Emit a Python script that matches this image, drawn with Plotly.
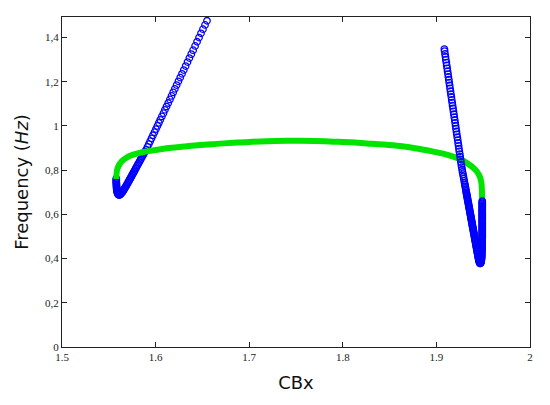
import plotly.graph_objects as go

# ---- data ----
green_x = [1.5580, 1.5582, 1.5588, 1.5605, 1.5638, 1.5690, 1.5760, 1.5869, 1.6000, 1.6118,
           1.6300, 1.6474, 1.6650, 1.6830, 1.7000, 1.7187, 1.7400, 1.7543, 1.7700, 1.7899,
           1.8080, 1.8255, 1.8430, 1.8611, 1.8790, 1.8967, 1.9080, 1.9181, 1.9260, 1.9323,
           1.9380, 1.9430, 1.9465, 1.9480, 1.9486, 1.9488]
green_y = [0.760, 0.780, 0.800, 0.820, 0.840, 0.857, 0.870, 0.882, 0.891, 0.899,
           0.907, 0.914, 0.919, 0.924, 0.928, 0.931, 0.933, 0.933, 0.932, 0.929,
           0.926, 0.921, 0.916, 0.909, 0.898, 0.884, 0.874, 0.861, 0.848, 0.833,
           0.816, 0.795, 0.770, 0.745, 0.710, 0.665]

blue_left_x = [
    1.5580, 1.5580, 1.5580, 1.5580, 1.5581, 1.5581, 1.5582, 1.5582, 1.5583, 1.5584,
    1.5585, 1.5587, 1.5589, 1.5592, 1.5595, 1.5599, 1.5603, 1.5608,
    1.5613, 1.5619, 1.5625, 1.5631, 1.5637, 1.5643, 1.5649, 1.5655, 1.5661, 1.5667,
    1.5673, 1.5680, 1.5687, 1.5694, 1.5700, 1.5707, 1.5713, 1.5720, 1.5726, 1.5733,
    1.5739, 1.5746, 1.5752, 1.5759, 1.5765, 1.5772, 1.5778, 1.5787, 1.5796, 1.5805,
    1.5814, 1.5823, 1.5832, 1.5841, 1.5850, 1.5859, 1.5868, 1.5877, 1.5886,
    1.5899, 1.5913, 1.5928, 1.5942, 1.5957, 1.5972, 1.5988, 1.6004, 1.6019, 1.6035,
    1.6050, 1.6067, 1.6084, 1.6100, 1.6117, 1.6135, 1.6153, 1.6170, 1.6188, 1.6206,
    1.6225, 1.6244, 1.6263, 1.6282, 1.6301, 1.6321, 1.6341, 1.6361, 1.6381, 1.6401,
    1.6422, 1.6443, 1.6464, 1.6485, 1.6506, 1.6528, 1.6549, 1.6570]
blue_left_y = [
    0.762, 0.757, 0.752, 0.747, 0.742, 0.737, 0.732, 0.727, 0.722, 0.717,
    0.712, 0.707, 0.702, 0.698, 0.694, 0.691, 0.689, 0.688,
    0.688, 0.689, 0.691, 0.694, 0.697, 0.700, 0.704, 0.708, 0.712, 0.716,
    0.720, 0.725, 0.730, 0.735, 0.740, 0.745, 0.750, 0.755, 0.760, 0.765,
    0.770, 0.775, 0.780, 0.785, 0.790, 0.795, 0.800, 0.807, 0.814, 0.821,
    0.828, 0.835, 0.842, 0.849, 0.856, 0.863, 0.870, 0.877, 0.884,
    0.892, 0.905, 0.918, 0.931, 0.944, 0.958, 0.972, 0.986, 1.000, 1.014,
    1.028, 1.043, 1.058, 1.073, 1.088, 1.104, 1.120, 1.136, 1.152, 1.168,
    1.185, 1.202, 1.219, 1.236, 1.253, 1.271, 1.289, 1.307, 1.325, 1.343,
    1.362, 1.381, 1.400, 1.419, 1.438, 1.457, 1.476, 1.495]

blue_right_x = [
    1.9490, 1.9490, 1.9490, 1.9490, 1.9490, 1.9490, 1.9490, 1.9490, 1.9490, 1.9490,
    1.9490, 1.9490, 1.9490, 1.9490, 1.9490, 1.9490, 1.9490, 1.9490, 1.9490, 1.9490,
    1.9490, 1.9490, 1.9490, 1.9490, 1.9490, 1.9490, 1.9490, 1.9490, 1.9490, 1.9490,
    1.9490, 1.9490, 1.9490,
    1.9490, 1.9489, 1.9489, 1.9489, 1.9489, 1.9489, 1.9488, 1.9488, 1.9488, 1.9488,
    1.9487, 1.9487, 1.9486, 1.9486, 1.9485, 1.9485, 1.9484, 1.9484, 1.9483, 1.9482,
    1.9481, 1.9480, 1.9478, 1.9477, 1.9475, 1.9473, 1.9470, 1.9468, 1.9465, 1.9463,
    1.9460, 1.9458, 1.9455, 1.9452, 1.9450, 1.9448, 1.9446,
    1.9444, 1.9442, 1.9439, 1.9437, 1.9435, 1.9433, 1.9431, 1.9429, 1.9426, 1.9424,
    1.9422, 1.9420, 1.9418, 1.9416, 1.9413, 1.9411, 1.9409, 1.9407, 1.9405, 1.9403,
    1.9400, 1.9398, 1.9396, 1.9394, 1.9392, 1.9390, 1.9387, 1.9385, 1.9383, 1.9381,
    1.9379, 1.9377, 1.9374, 1.9372, 1.9370, 1.9368, 1.9366, 1.9364, 1.9361, 1.9359,
    1.9357, 1.9355, 1.9353, 1.9350, 1.9348, 1.9346, 1.9344, 1.9342, 1.9340, 1.9337,
    1.9335, 1.9333, 1.9331, 1.9329, 1.9327, 1.9324, 1.9322, 1.9320,
    1.9317, 1.9314, 1.9311, 1.9308, 1.9305, 1.9301, 1.9297,
    1.9292, 1.9288, 1.9284, 1.9279, 1.9275, 1.9270, 1.9266,
    1.9262, 1.9258, 1.9254, 1.9250, 1.9245, 1.9241, 1.9237, 1.9232, 1.9228, 1.9223,
    1.9218, 1.9214, 1.9209, 1.9205, 1.9200, 1.9196, 1.9191, 1.9187, 1.9182, 1.9178,
    1.9173, 1.9169, 1.9164, 1.9160, 1.9155, 1.9151, 1.9146, 1.9142, 1.9137, 1.9133,
    1.9128, 1.9124, 1.9119, 1.9115, 1.9110, 1.9106, 1.9101, 1.9097, 1.9092, 1.9088,
    1.9085]
blue_right_y = [
    0.660, 0.655, 0.650, 0.645, 0.640, 0.635, 0.630, 0.625, 0.620, 0.615,
    0.610, 0.605, 0.600, 0.595, 0.590, 0.585, 0.580, 0.575, 0.570, 0.565,
    0.560, 0.555, 0.550, 0.545, 0.540, 0.535, 0.530, 0.525, 0.520, 0.515,
    0.510, 0.505, 0.500,
    0.495, 0.490, 0.485, 0.480, 0.475, 0.470, 0.465, 0.460, 0.455, 0.450,
    0.445, 0.440, 0.435, 0.430, 0.425, 0.420, 0.415, 0.410, 0.405, 0.400,
    0.396, 0.392, 0.388, 0.385, 0.382, 0.380, 0.379, 0.378, 0.379, 0.380,
    0.383, 0.386, 0.390, 0.395, 0.400, 0.405, 0.409,
    0.414, 0.419, 0.424, 0.429, 0.434, 0.439, 0.444, 0.449, 0.454, 0.459,
    0.464, 0.469, 0.474, 0.479, 0.484, 0.489, 0.494, 0.499, 0.504, 0.509,
    0.514, 0.519, 0.524, 0.529, 0.534, 0.539, 0.544, 0.549, 0.554, 0.559,
    0.564, 0.569, 0.574, 0.579, 0.584, 0.589, 0.594, 0.599, 0.604, 0.609,
    0.614, 0.619, 0.624, 0.629, 0.634, 0.639, 0.644, 0.649, 0.654, 0.659,
    0.664, 0.669, 0.674, 0.679, 0.684, 0.689, 0.694, 0.699,
    0.706, 0.713, 0.720, 0.727, 0.734, 0.742, 0.752,
    0.762, 0.772, 0.782, 0.792, 0.803, 0.814, 0.825,
    0.837, 0.849, 0.861, 0.873, 0.885, 0.897, 0.910, 0.923, 0.936, 0.949,
    0.962, 0.975, 0.988, 1.001, 1.014, 1.027, 1.040, 1.053, 1.066, 1.079,
    1.092, 1.105, 1.118, 1.131, 1.144, 1.157, 1.170, 1.183, 1.196, 1.209,
    1.222, 1.235, 1.248, 1.261, 1.274, 1.287, 1.300, 1.313, 1.326, 1.339,
    1.348]

x_ticks = [1.5, 1.6, 1.7, 1.8, 1.9, 2.0]
x_tick_labels = ["1.5", "1.6", "1.7", "1.8", "1.9", "2"]
y_ticks = [0, 0.2, 0.4, 0.6, 0.8, 1.0, 1.2, 1.4]
y_tick_labels = ["0", "0,2", "0,4", "0,6", "0,8", "1", "1,2", "1,4"]

BLUE = "#0000ff"
GREEN = "#00e400"

fig = go.Figure()
blue_marker = dict(symbol="circle-open", size=6.5, color=BLUE, line=dict(width=1.3, color=BLUE))

fig.add_trace(go.Scatter(x=blue_left_x, y=blue_left_y, mode="markers",
                         marker=blue_marker, cliponaxis=False, showlegend=False))
fig.add_trace(go.Scatter(x=green_x, y=green_y, mode="lines",
                         line=dict(color=GREEN, width=6, shape="spline"),
                         showlegend=False))
fig.add_trace(go.Scatter(x=blue_right_x, y=blue_right_y, mode="markers",
                         marker=blue_marker, cliponaxis=False, showlegend=False))

axis_common = dict(
    showgrid=False, zeroline=False, showline=True, linecolor="#222222", linewidth=1,
    mirror="ticks", ticks="inside", ticklen=5, tickwidth=1, tickcolor="#222222",
    tickfont=dict(family="Liberation Serif", size=11, color="#222222"),
    automargin=False,
)

# the page body adds an 8px offset, so the figure is sized 8px smaller
fig.update_layout(
    width=542, height=397,
    margin=dict(l=54, r=20, t=9, b=58),
    paper_bgcolor="white", plot_bgcolor="white",
    xaxis=dict(range=[1.5, 2.0], tickvals=x_ticks, ticktext=x_tick_labels,
               title=dict(text="CBx", font=dict(family="DejaVu Sans", size=18, color="#111111"),
                          standoff=14),
               **axis_common),
    yaxis=dict(range=[0, 1.493], tickvals=y_ticks, ticktext=y_tick_labels,
               title=dict(text="Frequency (<i>Hz</i>)",
                          font=dict(family="DejaVu Sans", size=18, color="#111111"),
                          standoff=11),
               **axis_common),
)

fig.write_html("out.html")
